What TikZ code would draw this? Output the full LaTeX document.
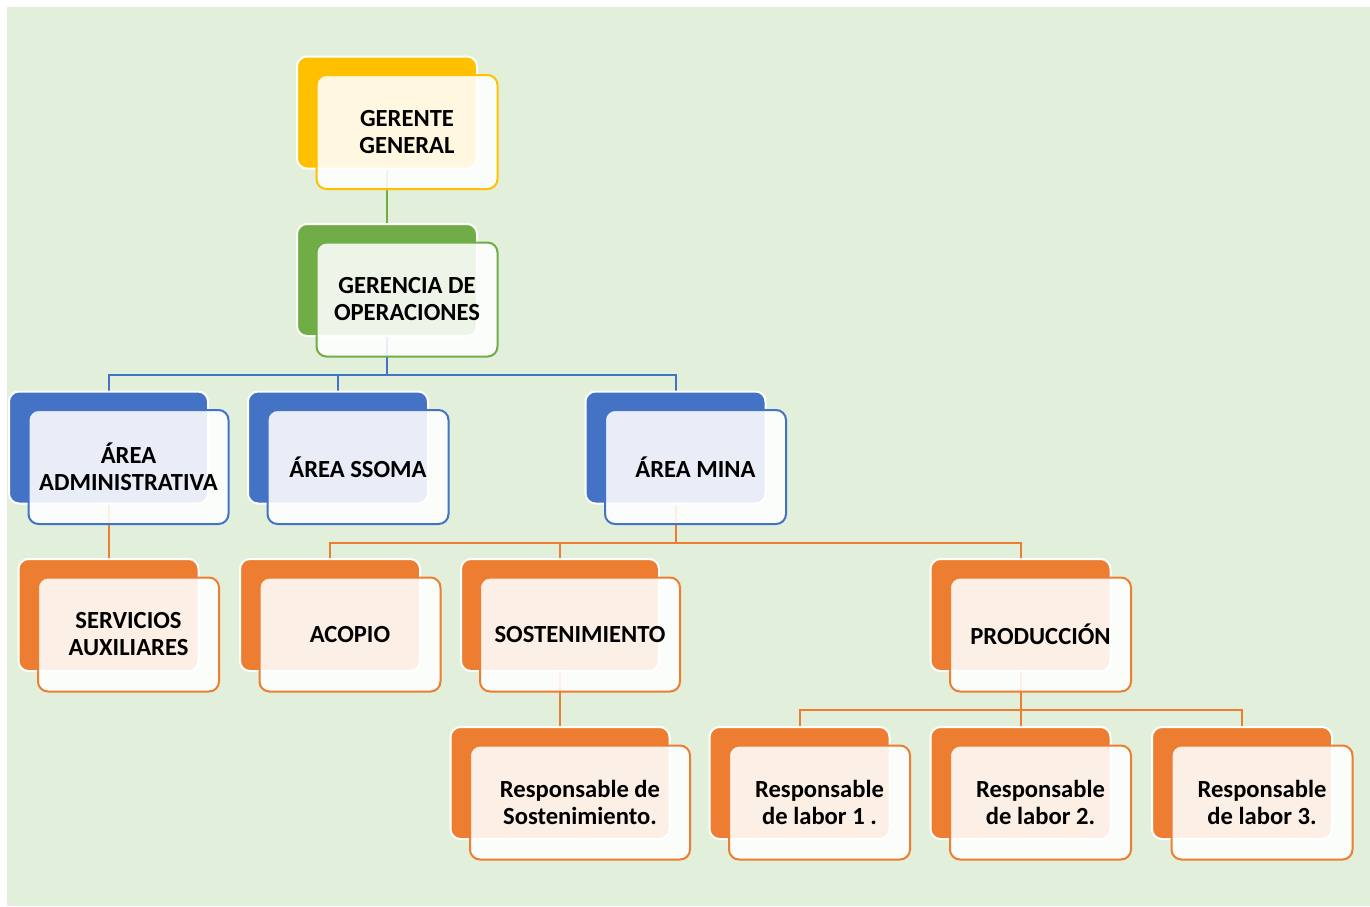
\documentclass[tikz,border=0pt]{standalone}
\usepackage{fontspec}
\setmainfont{Carlito}
\usetikzlibrary{calc}

% Capas: fondo verde y lineas por debajo de las cajas
\pgfdeclarelayer{fondo}
\pgfdeclarelayer{lineas}
\pgfsetlayers{fondo,lineas,main}

\begin{document}
\begin{tikzpicture}[x=0.5pt, y=-0.5pt]
  % Colores del organigrama
  \definecolor{verdefondo}{RGB}{226,239,218}
  \definecolor{amarillo}{RGB}{255,192,0}
  \definecolor{verde}{RGB}{112,173,71}
  \definecolor{azul}{RGB}{68,114,196}
  \definecolor{naranja}{RGB}{237,125,49}

  % Estilos: caja trasera de color y caja delantera translucida con el texto
  \tikzset{
    trasera/.style={rectangle, rounded corners=5pt, draw=white, line width=1pt,
      minimum width=90pt, minimum height=56pt, inner sep=0pt},
    frontal/.style={rectangle, rounded corners=5pt, fill=white, fill opacity=0.88,
      text opacity=1, line width=1pt, minimum width=90.5pt, minimum height=57pt,
      inner sep=0pt, align=center, font=\bfseries\fontsize{12.3}{13.5}\selectfont},
    conector/.style={line width=1pt}
  }

  \useasboundingbox (0,0) rectangle (1370,906);
  \begin{pgfonlayer}{fondo}
    \fill[verdefondo] (7,7) rectangle (1370,906);
  \end{pgfonlayer}

  % --- Nivel 0 y 1 ---
  \node[trasera, fill=amarillo] (gg-t) at (387,112.5) {};
  \node[frontal, draw=amarillo] (gg) at ($(gg-t)+(20,19.5)$) {GERENTE\\GENERAL};
  \node[trasera, fill=verde] (go-t) at (387,280) {};
  \node[frontal, draw=verde] (go) at ($(go-t)+(20,19.5)$) {GERENCIA DE\\OPERACIONES};

  % --- Areas ---
  \node[trasera, fill=azul, minimum width=99.5pt] (adm-t) at (108.5,447.5) {};
  \node[frontal, draw=azul, minimum width=100pt] (adm) at ($(adm-t)+(20,19.5)$) {ÁREA\\ADMINISTRATIVA};
  \node[trasera, fill=azul] (ssoma-t) at (338,447.5) {};
  \node[frontal, draw=azul] (ssoma) at ($(ssoma-t)+(20,19.5)$) {ÁREA SSOMA};
  \node[trasera, fill=azul] (mina-t) at (675.5,447.5) {};
  \node[frontal, draw=azul] (mina) at ($(mina-t)+(20,19.5)$) {ÁREA MINA};

  % --- Secciones ---
  \node[trasera, fill=naranja] (serv-t) at (108.5,615) {};
  \node[frontal, draw=naranja] (serv) at ($(serv-t)+(20,19.5)$) {SERVICIOS\\AUXILIARES};
  \node[trasera, fill=naranja] (acopio-t) at (330,615) {};
  \node[frontal, draw=naranja] (acopio) at ($(acopio-t)+(20,19.5)$) {ACOPIO};
  \node[trasera, fill=naranja, minimum width=99pt] (sost-t) at (560,615) {};
  \node[frontal, draw=naranja, minimum width=100pt] (sost) at ($(sost-t)+(20,19.5)$) {SOSTENIMIENTO};
  \node[trasera, fill=naranja] (prod-t) at (1020.5,615) {};
  \node[frontal, draw=naranja] (prod) at ($(prod-t)+(20,19.5)$) {PRODUCCIÓN};

  % --- Responsables ---
  \node[trasera, fill=naranja, minimum width=109.5pt] (rsost-t) at (560,783) {};
  \node[frontal, draw=naranja, minimum width=110pt] (rsost) at ($(rsost-t)+(20,19.5)$) {Responsable de\\Sostenimiento.};
  \node[trasera, fill=naranja] (l1-t) at (799.5,783) {};
  \node[frontal, draw=naranja] (l1) at ($(l1-t)+(20,19.5)$) {Responsable\\de labor 1 .};
  \node[trasera, fill=naranja] (l2-t) at (1020.5,783) {};
  \node[frontal, draw=naranja] (l2) at ($(l2-t)+(20,19.5)$) {Responsable\\de labor 2.};
  \node[trasera, fill=naranja] (l3-t) at (1242,783) {};
  \node[frontal, draw=naranja] (l3) at ($(l3-t)+(20,19.5)$) {Responsable\\de labor 3.};

  % --- Conectores ---
  \begin{pgfonlayer}{lineas}
    \draw[conector, verde] (gg-t.south) -- (go-t.north);
    \draw[conector, azul] (go-t.south) -- ++(0,38) -| (adm-t.north);
    \draw[conector, azul] (go-t.south) -- ++(0,38) -| (ssoma-t.north);
    \draw[conector, azul] (go-t.south) -- ++(0,38) -| (mina-t.north);
    \draw[conector, naranja] (adm-t.south) -- (serv-t.north);
    \draw[conector, naranja] (mina-t.south) -- ++(0,38) -| (acopio-t.north);
    \draw[conector, naranja] (mina-t.south) -- ++(0,38) -| (sost-t.north);
    \draw[conector, naranja] (mina-t.south) -- ++(0,38) -| (prod-t.north);
    \draw[conector, naranja] (sost-t.south) -- (rsost-t.north);
    \draw[conector, naranja] (prod-t.south) -- ++(0,38) -| (l1-t.north);
    \draw[conector, naranja] (prod-t.south) -- ++(0,38) -| (l2-t.north);
    \draw[conector, naranja] (prod-t.south) -- ++(0,38) -| (l3-t.north);
  \end{pgfonlayer}
\end{tikzpicture}
\end{document}
